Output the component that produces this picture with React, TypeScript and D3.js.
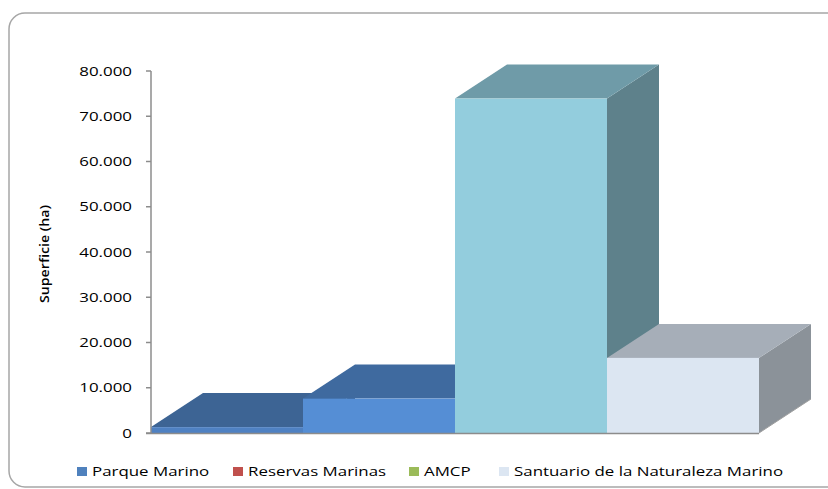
import React from "react";
import * as d3 from "d3";

const categories = ["Parque Marino", "Reservas Marinas", "AMCP", "Santuario de la Naturaleza Marino"];
const values = [1300, 7600, 73900, 16600];
const yTicks = [0, 10000, 20000, 30000, 40000, 50000, 60000, 70000, 80000];
const legendColors = ["#4F81BD", "#C0504D", "#9BBB59", "#DCE6F2"];
const frontColors = ["#4F81C2", "#558ED5", "#93CDDD", "#DCE6F2"];
const topColors = ["#3D6494", "#3F6A9F", "#6F9BA8", "#A6AEB8"];
const sideColors = ["#34557F", "#385E8C", "#5E818B", "#8B9299"];

const W = 828;
const H = 489;
const DX = 52;
const DY = -34;
const FONT = "'Open Sans', sans-serif";
const SX = 1.3;

const fmt = (v: number) => d3.format(",")(v).replace(/,/g, ".");

export default function App() {
  const x = d3.scaleBand<string>().domain(categories).range([151, 759]).paddingInner(0).paddingOuter(0);
  const y = d3.scaleLinear().domain([0, 80000]).range([433, 71]);
  const bw = x.bandwidth();

  const legendX = [77, 233, 409, 499];

  return (
    <svg width={W} height={H} style={{ position: "absolute", left: 0, top: 0 }}>
      <rect x={9} y={13} width={840} height={474} rx={16} ry={16} fill="#fff" stroke="#A6A6A6" strokeWidth={1.5} />
      {categories.map((c, i) => {
        const x0 = x(c)!;
        const x1 = x0 + bw;
        const yb = y(0);
        const yt = y(values[i]);
        const side = `M${x1},${yb} L${x1 + DX},${yb + DY} L${x1 + DX},${yt + DY} L${x1},${yt} Z`;
        const top = `M${x0},${yt} L${x0 + DX},${yt + DY} L${x1 + DX},${yt + DY} L${x1},${yt} Z`;
        return (
          <g key={c}>
            <path d={side} fill={sideColors[i]} />
            <path d={top} fill={topColors[i]} />
            <rect x={x0} y={yt} width={bw} height={yb - yt} fill={frontColors[i]} />
          </g>
        );
      })}
      <line x1={151} x2={151} y1={y(80000)} y2={y(0)} stroke="#8C8C8C" strokeWidth={1.5} />
      <line x1={146} x2={759} y1={y(0) + 0.5} y2={y(0) + 0.5} stroke="#8C8C8C" strokeWidth={1.5} />
      <line x1={759} x2={759 + DX} y1={y(0)} y2={y(0) + DY} stroke="#A0A0A0" strokeWidth={1} />
      {yTicks.map((t) => (
        <g key={t}>
          <line x1={146} x2={151} y1={y(t)} y2={y(t)} stroke="#8C8C8C" strokeWidth={1.5} />
          <text
            transform={`translate(132,${y(t) + 4.5}) scale(${SX},1)`}
            textAnchor="end"
            fontFamily={FONT}
            fontSize={13}
            fill="#000"
          >
            {fmt(t)}
          </text>
        </g>
      ))}
      <text
        transform={`translate(49,254) rotate(-90)`}
        textAnchor="middle"
        fontFamily={FONT}
        fontSize={13}
        fontWeight={600}
        fill="#000"
        textLength={98}
        lengthAdjust="spacingAndGlyphs"
      >
        Superficie (ha)
      </text>
      {categories.map((c, i) => (
        <g key={"lg" + c}>
          <rect x={legendX[i]} y={467} width={10} height={9} fill={legendColors[i]} />
          <text
            transform={`translate(${legendX[i] + 15},476) scale(${SX},1)`}
            fontFamily={FONT}
            fontSize={13}
            fill="#000"
          >
            {c}
          </text>
        </g>
      ))}
    </svg>
  );
}
